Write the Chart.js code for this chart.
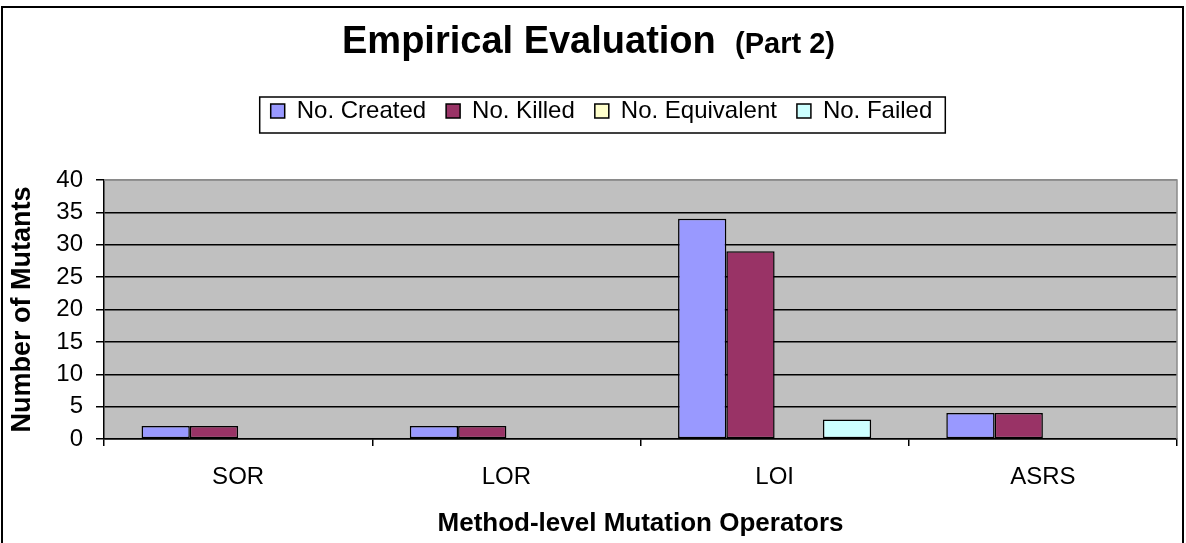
<!DOCTYPE html>
<html><head><meta charset="utf-8">
<script src="https://cdn.jsdelivr.net/npm/chart.js@4/dist/chart.umd.min.js"></script>
<style>html,body{margin:0;padding:0;background:#fff;}#wrap{position:relative;width:1186px;height:543px;}</style>
</head><body><div id="wrap"><canvas id="c" width="1186" height="543"></canvas></div>
<script>
const categories = ['SOR', 'LOR', 'LOI', 'ASRS'];
const seriesNames = ['No. Created', 'No. Killed', 'No. Equivalent', 'No. Failed'];
const created = [2, 2, 34, 4];
const killed = [2, 2, 29, 4];
const equivalent = [0, 0, 0, 0];
const failed = [0, 0, 3, 0];
const yTicks = [0, 5, 10, 15, 20, 25, 30, 35, 40];
const seriesColors = ['#9999FF', '#993366', '#FFFFCC', '#CCFFFF'];
const titleMain = 'Empirical Evaluation';
const titleSub = '(Part 2)';
const yTitle = 'Number of Mutants';
const xTitle = 'Method-level Mutation Operators';

const F = "'Liberation Sans', Arial, sans-serif";
const LEGEND_PAD = 20;
const LEGEND_EXTRA = 47;
const LEGEND_SHIFT = 13;

const decor = {
  id: 'decor',
  beforeLayout(chart) {
    const lg = chart.legend;
    if (lg && !lg._patched) {
      const f = lg.fit.bind(lg);
      lg.fit = function () { f(); this.height += LEGEND_EXTRA; };
      lg._patched = true;
    }
  },
  afterLayout(chart) {
    const lg = chart.legend;
    if (lg) { lg.left += LEGEND_SHIFT; lg.right += LEGEND_SHIFT; }
  },
  beforeDraw(chart) {
    const ctx = chart.ctx, a = chart.chartArea;
    ctx.save();
    ctx.fillStyle = '#fff';
    ctx.fillRect(0, 0, chart.width, chart.height);
    ctx.fillStyle = '#C0C0C0';
    ctx.fillRect(a.left, a.top, a.right - a.left, a.bottom - a.top);
    ctx.restore();
  },
  beforeDatasetsDraw(chart) {
    const ctx = chart.ctx, a = chart.chartArea;
    ctx.save();
    ctx.strokeStyle = '#8a8a8a';
    ctx.lineWidth = 1.5;
    ctx.beginPath();
    ctx.moveTo(a.left, a.top);
    ctx.lineTo(a.right, a.top);
    ctx.lineTo(a.right, a.bottom);
    ctx.stroke();
    ctx.restore();
  },
  afterDraw(chart) {
    const ctx = chart.ctx;
    ctx.save();
    // title
    ctx.fillStyle = '#000';
    ctx.textBaseline = 'alphabetic';
    ctx.textAlign = 'left';
    ctx.font = 'bold 38px ' + F;
    ctx.fillText(titleMain, 342, 53);
    ctx.textAlign = 'right';
    ctx.font = 'bold 29px ' + F;
    ctx.fillText(titleSub, 835, 53);
    // legend border
    const lg = chart.legend;
    if (lg && lg.legendHitBoxes && lg.legendHitBoxes.length) {
      const hb = lg.legendHitBoxes;
      const first = hb[0], last = hb[hb.length - 1];
      const cy = first.top + first.height / 2;
      const x0 = first.left - 11, x1 = last.left + last.width + 13;
      ctx.strokeStyle = '#000';
      ctx.lineWidth = 1.5;
      ctx.strokeRect(x0, cy - 14, x1 - x0, 36);
    }
    // outer border
    ctx.strokeStyle = '#000';
    ctx.lineWidth = 2;
    ctx.strokeRect(2, 7, 1181, 560);
    ctx.restore();
  }
};

const dataArrays = [created, killed, equivalent, failed];
new Chart(document.getElementById('c'), {
  type: 'bar',
  data: {
    labels: categories,
    datasets: seriesNames.map((n, i) => ({
      label: n,
      data: dataArrays[i],
      backgroundColor: seriesColors[i],
      borderColor: '#000',
      borderWidth: 1.5,
      borderSkipped: false,
      categoryPercentage: 0.72,
      barPercentage: 1.0
    }))
  },
  options: {
    responsive: false,
    animation: false,
    devicePixelRatio: 1,
    layout: { padding: { top: 79, left: 0, right: 9, bottom: 0 } },
    plugins: {
      title: { display: false },
      tooltip: { enabled: false },
      legend: {
        display: true,
        position: 'top',
        labels: { font: { family: F, size: 24 }, color: '#000', boxWidth: 14, boxHeight: 14, padding: LEGEND_PAD }
      }
    },
    scales: {
      x: {
        grid: { display: true, drawOnChartArea: false, drawTicks: true, tickLength: 7, color: '#000', offset: true, lineWidth: 1.5 },
        border: { display: true, color: '#000', width: 1.5 },
        ticks: { font: { family: F, size: 24 }, color: '#000', padding: 17 },
        title: { display: true, text: xTitle, font: { family: F, size: 26, weight: 'bold' }, color: '#000', padding: { top: 0, bottom: 4 } },
        afterFit(s) { s.height = 104; }
      },
      y: {
        min: 0, max: 40,
        afterBuildTicks(s) { s.ticks = yTicks.map(v => ({ value: v })); },
        grid: { color: c => (c.tick && c.tick.value === 40) ? '#8a8a8a' : '#000', tickColor: '#000', tickLength: 8, lineWidth: 1.5 },
        border: { color: '#000', width: 1.5 },
        ticks: { font: { family: F, size: 24 }, color: '#000', padding: 13 },
        title: { display: true, text: yTitle, font: { family: F, size: 27, weight: 'bold' }, color: '#000', padding: { top: 6, bottom: 0 } },
        afterFit(s) { s.width = 104; }
      }
    }
  },
  plugins: [decor]
});
</script>
</body></html>
